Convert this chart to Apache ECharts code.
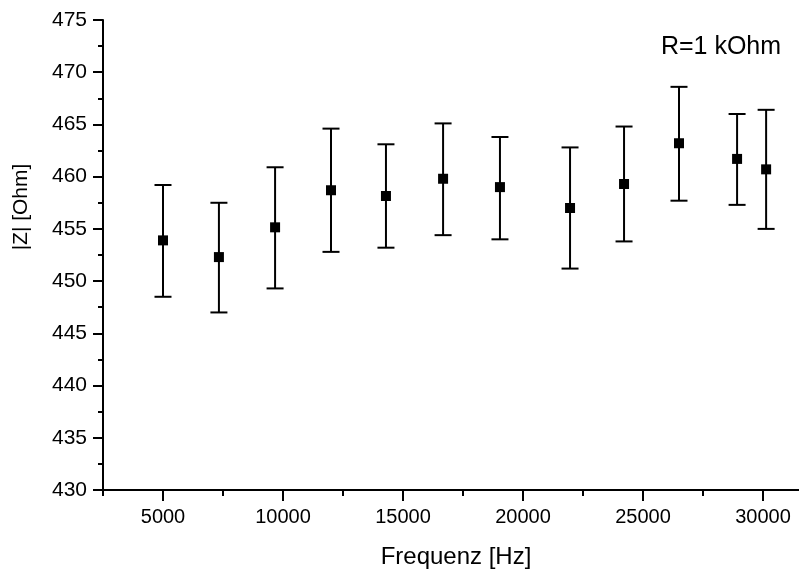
<!DOCTYPE html>
<html>
<head>
<meta charset="utf-8">
<script src="https://cdn.jsdelivr.net/npm/echarts@6/dist/echarts.min.js"></script>
<style>
  html, body { margin: 0; padding: 0; background: #fff; }
  #main { width: 799px; height: 579px; }
</style>
</head>
<body>
<div id="main"></div>
<script>
// frequency [Hz], |Z| [Ohm] and error bar ends
var freq = [5000, 7330, 9670, 12000, 14290, 16670, 19040, 21960, 24210, 26500, 28920, 30130];
var zMean = [453.9, 452.3, 455.15, 458.7, 458.15, 459.8, 459.0, 457.0, 459.3, 463.2, 461.7, 460.7];
var zHigh = [459.2, 457.5, 460.9, 464.6, 463.1, 465.1, 463.8, 462.8, 464.8, 468.6, 466.0, 466.4];
var zLow = [448.5, 447.0, 449.3, 452.8, 453.2, 454.4, 454.0, 451.2, 453.8, 457.7, 457.3, 455.0];

var xMajor = [5000, 10000, 15000, 20000, 25000, 30000];
var xMinor = [2500, 7500, 12500, 17500, 22500, 27500];

var FONT = "'Liberation Sans', Arial, sans-serif";

var chart = echarts.init(document.getElementById('main'));

var points = freq.map(function (f, i) { return [f, zMean[i]]; });
var bars = freq.map(function (f, i) { return [f, zLow[i], zHigh[i]]; });

function renderErr(params, api) {
  var lo = api.coord([api.value(0), api.value(1)]);
  var hi = api.coord([api.value(0), api.value(2)]);
  var half = 8.5;
  var style = { stroke: '#000', lineWidth: 2 };
  return {
    type: 'group',
    children: [
      { type: 'line', shape: { x1: lo[0], y1: lo[1], x2: hi[0], y2: hi[1] }, style: style },
      { type: 'line', shape: { x1: lo[0] - half, y1: lo[1], x2: lo[0] + half, y2: lo[1] }, style: style },
      { type: 'line', shape: { x1: hi[0] - half, y1: hi[1], x2: hi[0] + half, y2: hi[1] }, style: style }
    ]
  };
}

var option = {
  animation: false,
  backgroundColor: '#fff',
  grid: { left: 103, top: 20, bottom: 89, right: 0 },
  xAxis: [{
    type: 'value',
    min: 2500,
    max: 31500,
    splitLine: { show: false },
    axisLine: { lineStyle: { color: '#000', width: 2 } },
    axisTick: { customValues: xMajor, length: 11, lineStyle: { color: '#000', width: 2 } },
    axisLabel: {
      customValues: xMajor,
      margin: 17,
      color: '#000',
      fontSize: 20,
      fontFamily: FONT,
      formatter: function (v) { return String(v); }
    }
  }, {
    type: 'value',
    min: 2500,
    max: 31500,
    position: 'bottom',
    splitLine: { show: false },
    axisLine: { show: false },
    axisTick: { customValues: xMinor, length: 6, lineStyle: { color: '#000', width: 2 } },
    axisLabel: { show: false }
  }],
  yAxis: {
    type: 'value',
    min: 430,
    max: 475,
    interval: 5,
    splitLine: { show: false },
    axisLine: { show: true, lineStyle: { color: '#000', width: 2 } },
    axisTick: { show: true, length: 10, lineStyle: { color: '#000', width: 2 } },
    minorTick: { show: true, splitNumber: 2, length: 5, lineStyle: { color: '#000', width: 2 } },
    axisLabel: { margin: 16, color: '#000', fontSize: 21, fontFamily: FONT }
  },
  graphic: [
    {
      type: 'text',
      x: 21, y: 207,
      rotation: Math.PI / 2,
      style: {
        text: '|Z| [Ohm]',
        fill: '#000',
        font: '21px ' + FONT,
        align: 'center',
        verticalAlign: 'middle'
      }
    },
    {
      type: 'text',
      x: 456, y: 557,
      style: {
        text: 'Frequenz [Hz]',
        fill: '#000',
        font: '24px ' + FONT,
        align: 'center',
        verticalAlign: 'middle'
      }
    },
    {
      type: 'text',
      x: 721, y: 47,
      style: {
        text: 'R=1 kOhm',
        fill: '#000',
        font: '25px ' + FONT,
        align: 'center',
        verticalAlign: 'middle'
      }
    }
  ],
  series: [
    {
      type: 'custom',
      renderItem: renderErr,
      data: bars,
      encode: { x: 0, y: [1, 2] },
      z: 2
    },
    {
      type: 'scatter',
      data: points,
      symbol: 'rect',
      symbolSize: 10,
      itemStyle: { color: '#000', opacity: 1 },
      z: 3
    }
  ]
};

chart.setOption(option);
</script>
</body>
</html>
